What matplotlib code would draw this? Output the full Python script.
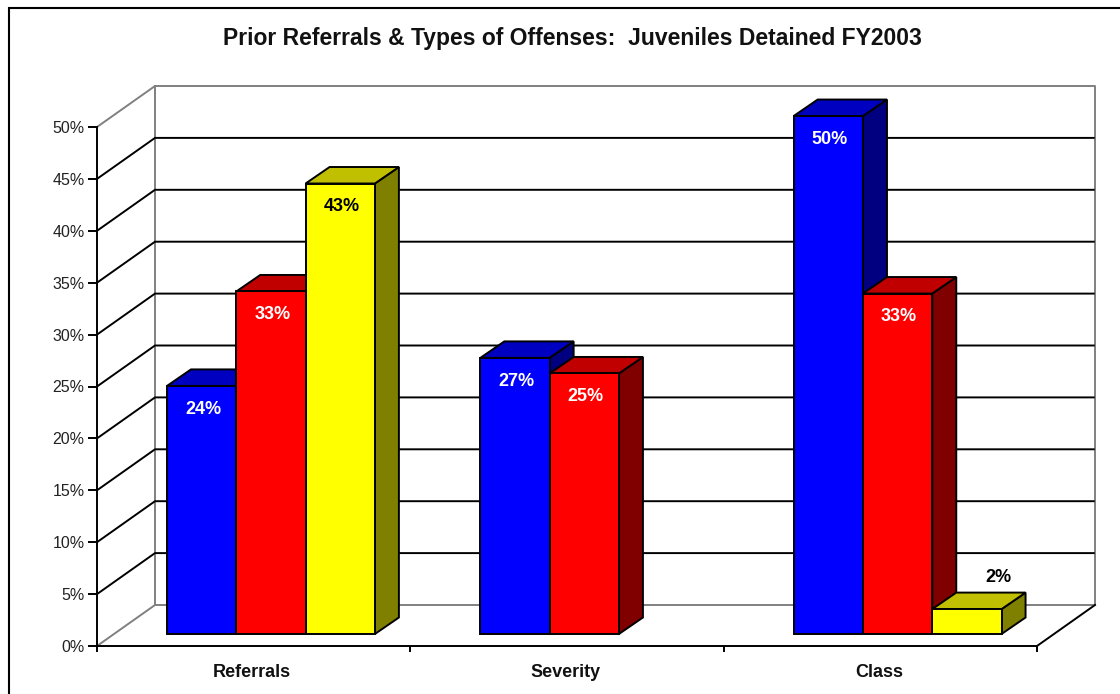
import matplotlib
matplotlib.use("Agg")
import matplotlib.pyplot as plt
from matplotlib.patches import Polygon, Rectangle

plt.rcParams['font.family'] = ['Liberation Sans', 'DejaVu Sans']

title = "Prior Referrals & Types of Offenses:  Juveniles Detained FY2003"
categories = ["Referrals", "Severity", "Class"]
yticks = [0, 5, 10, 15, 20, 25, 30, 35, 40, 45, 50]

# one list per series, None = no bar
blue_vals = [23.9, 26.6, 49.9]
red_vals = [33.0, 25.1, 32.8]
yellow_vals = [43.4, None, 2.4]

blue_cols = ["#0000FF", "#0000C0", "#000080"]
red_cols = ["#FF0000", "#C00000", "#800000"]
yellow_cols = ["#FFFF00", "#C0C000", "#808000"]

# pixel sizes of one category and of one percent
px_cat = 313.33
px_pct = 10.38

# 3d offsets in data units
wall_dx = 58 / px_cat
wall_dy = 41 / px_pct
floor_dx = 17 / px_cat
floor_dy = 12 / px_pct
bar_dx = 24 / px_cat
bar_dy = 16.5 / px_pct
gap = 53 / px_cat
bar_w = 69.3 / px_cat

lw = 1.4

fig = plt.figure(figsize=(11.2, 6.94), dpi=100)
ax = fig.add_axes([97 / 1120, (694 - 646) / 694, (1096 - 97) / 1120, (646 - 86) / 694])
ax.set_xlim(0, 999 / px_cat)
ax.set_ylim(0, 560 / px_pct)
ax.patch.set_visible(False)

# walls
n = len(categories)
gray = "#808080"
ax.plot([0, wall_dx, wall_dx], [0, wall_dy, 50 + wall_dy], color=gray, lw=lw, clip_on=False, zorder=1)
ax.plot([0, wall_dx, n + wall_dx, n + wall_dx, wall_dx], [50, 50 + wall_dy, 50 + wall_dy, wall_dy, wall_dy],
        color=gray, lw=lw, clip_on=False, zorder=1)
for v in yticks[1:-1]:
    ax.plot([0, wall_dx, n + wall_dx - 0.004], [v, v + wall_dy, v + wall_dy], color="black", lw=lw,
            clip_on=False, zorder=2)
ax.plot([n, n + wall_dx], [0, wall_dy], color="black", lw=lw, clip_on=False, zorder=2)


def bar3d(x, v, cols, z):
    y0 = floor_dy
    y1 = floor_dy + v
    x0 = x
    x1 = x + bar_w
    edge = dict(edgecolor="black", lw=lw, joinstyle="miter", clip_on=False, zorder=z)
    ax.add_patch(Polygon([(x1, y0), (x1 + bar_dx, y0 + bar_dy), (x1 + bar_dx, y1 + bar_dy), (x1, y1)],
                         facecolor=cols[2], **edge))
    ax.add_patch(Polygon([(x0, y1), (x0 + bar_dx, y1 + bar_dy), (x1 + bar_dx, y1 + bar_dy), (x1, y1)],
                         facecolor=cols[1], **edge))
    ax.add_patch(Polygon([(x0, y0), (x1, y0), (x1, y1), (x0, y1)], facecolor=cols[0], **edge))


z = 3
for i in range(n):
    for k, (vals, cols, tcol) in enumerate([(blue_vals, blue_cols, "white"),
                                            (red_vals, red_cols, "white"),
                                            (yellow_vals, yellow_cols, "black")]):
        v = vals[i]
        if v is None:
            continue
        x = i + floor_dx + gap + k * bar_w
        bar3d(x, v, cols, z)
        if v < 5:
            # too short to hold its label, goes above
            tx, ty = x + bar_w + 0.5 * bar_dx - 0.048, floor_dy + v + 3.0
        else:
            tx, ty = x + 0.5 * bar_w + 0.005, floor_dy + v - 2.25
        ax.text(tx, ty, "%d%%" % round(v), color=tcol, fontsize=13, fontweight="bold",
                ha="center", va="center", zorder=50)
        z += 1

# axes lines and ticks
for s in ["top", "right"]:
    ax.spines[s].set_visible(False)
ax.spines["left"].set_bounds(0, 50)
ax.spines["bottom"].set_bounds(0, n)
for s in ["left", "bottom"]:
    ax.spines[s].set_linewidth(lw)
    ax.spines[s].set_zorder(2)
ax.set_yticks(yticks)
ax.set_yticklabels(["%d%%" % v for v in yticks])
ax.set_xticks(range(n + 1))
ax.set_xticklabels([])
ax.set_xticks([i + 0.495 for i in range(n)], minor=True)
ax.set_xticklabels(categories, minor=True, fontsize=13, fontweight="bold", color="#111111")
ax.tick_params(axis="y", length=6.5, width=lw, pad=2.5, labelsize=11.5, labelcolor="#222222")
ax.tick_params(axis="x", which="major", length=4.3, width=lw)
ax.tick_params(axis="x", which="minor", length=0, pad=13)

fig.text(572 / 1120, 1 - 39 / 694, title, fontsize=16.5, fontweight="bold", color="#111111",
         ha="center", va="center")

# chart border, runs off the picture on the right and bottom
fig.add_artist(Rectangle((9 / 1120, -0.02), 1.1, 1 - 8 / 694 + 0.02, transform=fig.transFigure,
                         facecolor="none", edgecolor="black", lw=1.5))

fig.savefig("out.png", dpi=100)
